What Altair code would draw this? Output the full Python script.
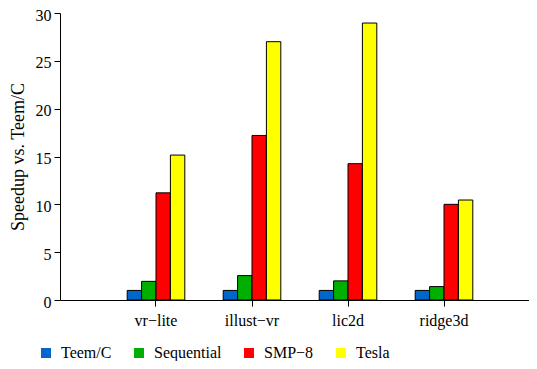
import altair as alt
import pandas as pd

categories = ["vr\u2212lite", "illust\u2212vr", "lic2d", "ridge3d"]
series = ["Teem/C", "Sequential", "SMP\u22128", "Tesla"]
teem_c = [1.0, 1.0, 1.0, 1.0]
sequential = [1.95, 2.55, 2.0, 1.4]
smp8 = [11.2, 17.2, 14.25, 10.0]
tesla = [15.15, 27.0, 28.95, 10.45]
colors = ["#0066cc", "#00b000", "#ff0000", "#ffff00"]
y_ticks = [0, 5, 10, 15, 20, 25, 30]

rows = []
for s, vals in zip(series, [teem_c, sequential, smp8, tesla]):
    for c, v in zip(categories, vals):
        rows.append({"category": c, "series": s, "value": v})
df = pd.DataFrame(rows)

FONT = "Liberation Serif"

chart = alt.Chart(df).mark_bar(stroke="black", strokeWidth=1).encode(
    x=alt.X("category:N", sort=categories,
            scale=alt.Scale(paddingInner=0.4, paddingOuter=0.7, range=[0, 480]),
            axis=alt.Axis(title=None, labelAngle=0, tickSize=6, labelPadding=6,
                          domainColor="black", tickColor="black", labelColor="black",
                          labelFont=FONT, labelFontSize=16)),
    xOffset=alt.XOffset("series:N", sort=series, scale=alt.Scale(paddingInner=0, paddingOuter=0)),
    y=alt.Y("value:Q", scale=alt.Scale(domain=[0, 30], nice=False),
            axis=alt.Axis(title="Speedup vs. Teem/C", values=y_ticks, grid=False, tickSize=6,
                          labelPadding=3, labelOffset=2, titlePadding=8, domainColor="black",
                          tickColor="black", labelColor="black", titleColor="black",
                          labelFont=FONT, labelFontSize=16, titleFont=FONT, titleFontSize=18,
                          titleFontWeight="normal")),
    color=alt.Color("series:N", sort=series,
                    scale=alt.Scale(domain=series, range=colors),
                    legend=alt.Legend(title=None, orient="none", direction="horizontal",
                                      legendX=-22, legendY=332, symbolType="square",
                                      symbolSize=100, symbolStrokeWidth=0, labelFont=FONT,
                                      labelFontSize=16, labelColor="black", columnPadding=19,
                                      padding=0, labelOffset=7)),
).properties(
    width=469, height=287,
    autosize=alt.AutoSizeParams(type="none"),
    padding={"left": 52, "top": 5, "right": 0, "bottom": 61},
).configure(background="white", font=FONT).configure_view(stroke=None)

chart.save("out.html", embed_options={"renderer": "svg", "actions": False})
